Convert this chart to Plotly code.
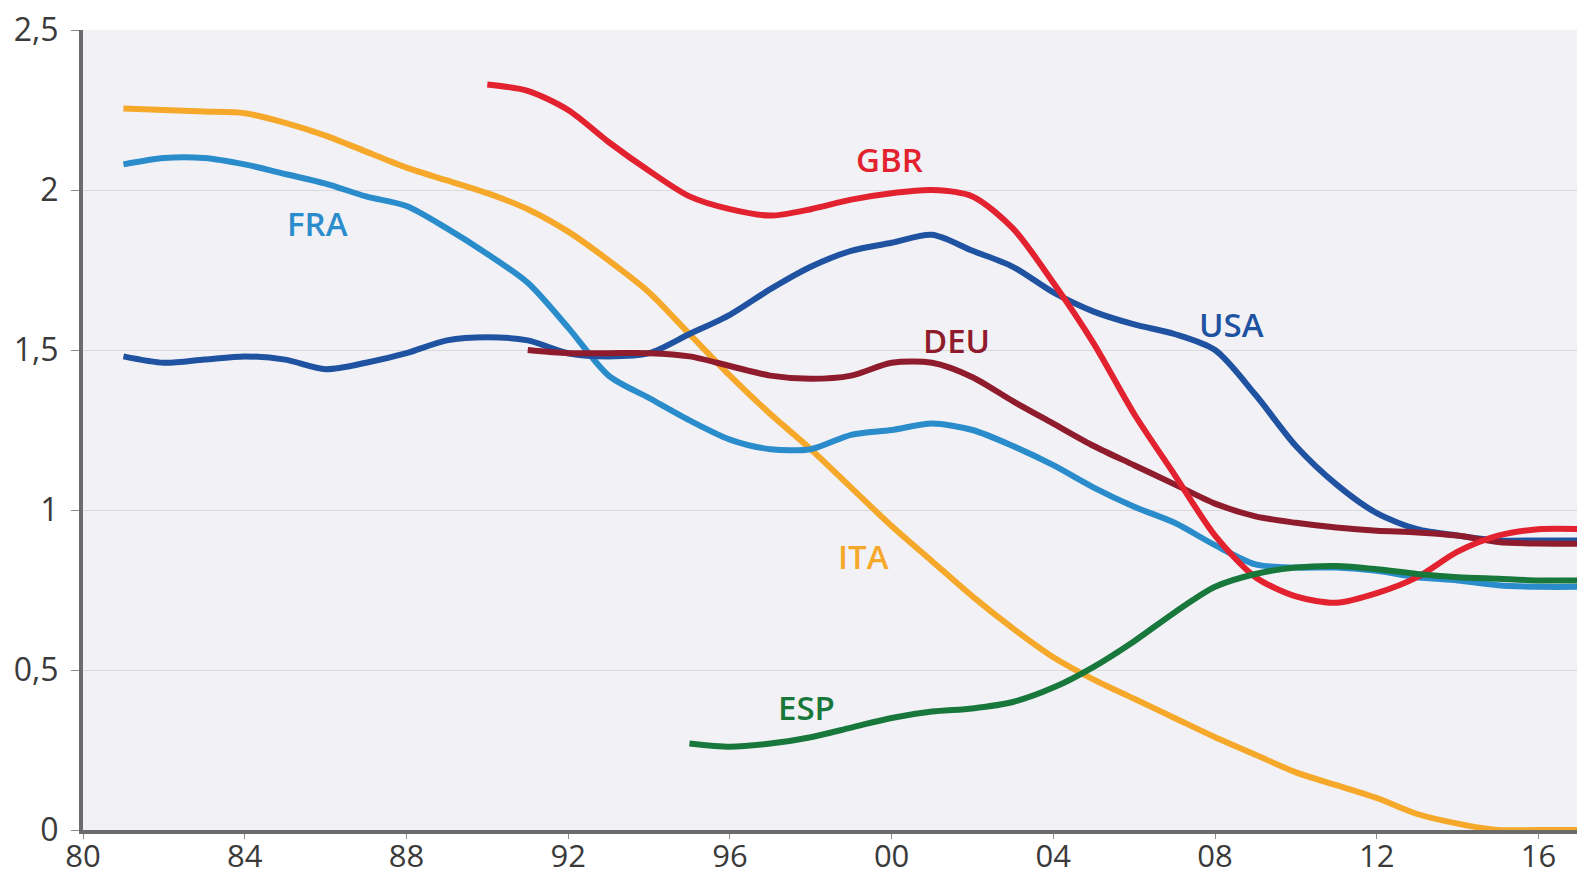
import plotly.graph_objects as go

# years (full calendar) for each series
years_long = [1981, 1982, 1983, 1984, 1985, 1986, 1987, 1988, 1989, 1990, 1991, 1992,
              1993, 1994, 1995, 1996, 1997, 1998, 1999, 2000, 2001, 2002, 2003, 2004,
              2005, 2006, 2007, 2008, 2009, 2010, 2011, 2012, 2013, 2014, 2015, 2016, 2017.2]

ita = [2.255, 2.25, 2.245, 2.24, 2.21, 2.17, 2.12, 2.07, 2.03, 1.99, 1.94, 1.87,
       1.78, 1.68, 1.55, 1.42, 1.30, 1.19, 1.07, 0.95, 0.84, 0.73, 0.63, 0.54,
       0.47, 0.41, 0.35, 0.29, 0.235, 0.18, 0.14, 0.10, 0.05, 0.02, 0.0, 0.0, 0.0]

fra = [2.08, 2.10, 2.10, 2.08, 2.05, 2.02, 1.98, 1.95, 1.88, 1.80, 1.71, 1.57,
       1.42, 1.35, 1.28, 1.22, 1.19, 1.19, 1.235, 1.25, 1.27, 1.25, 1.20, 1.14,
       1.07, 1.01, 0.96, 0.89, 0.83, 0.82, 0.82, 0.81, 0.79, 0.78, 0.765, 0.76, 0.76]

usa = [1.48, 1.46, 1.47, 1.48, 1.47, 1.44, 1.46, 1.49, 1.53, 1.54, 1.53, 1.49,
       1.48, 1.49, 1.55, 1.61, 1.69, 1.76, 1.81, 1.835, 1.86, 1.81, 1.76, 1.68,
       1.62, 1.58, 1.55, 1.50, 1.36, 1.20, 1.08, 0.99, 0.94, 0.92, 0.905, 0.905, 0.905]

years_deu = [1991, 1992, 1993, 1994, 1995, 1996, 1997, 1998, 1999, 2000, 2001, 2002,
             2003, 2004, 2005, 2006, 2007, 2008, 2009, 2010, 2011, 2012, 2013, 2014,
             2015, 2016, 2017.2]
deu = [1.50, 1.49, 1.49, 1.49, 1.48, 1.45, 1.42, 1.41, 1.42, 1.46, 1.46, 1.415,
       1.34, 1.27, 1.20, 1.14, 1.08, 1.02, 0.98, 0.96, 0.945, 0.935, 0.93, 0.92,
       0.90, 0.895, 0.895]

years_gbr = [1990, 1991, 1992, 1993, 1994, 1995, 1996, 1997, 1998, 1999, 2000, 2001,
             2002, 2003, 2004, 2005, 2006, 2007, 2008, 2009, 2010, 2011, 2012, 2013,
             2014, 2015, 2016, 2017.2]
gbr = [2.33, 2.31, 2.25, 2.15, 2.06, 1.98, 1.94, 1.92, 1.94, 1.97, 1.99, 2.00,
       1.98, 1.88, 1.71, 1.52, 1.30, 1.11, 0.92, 0.79, 0.73, 0.71, 0.74, 0.79,
       0.87, 0.92, 0.94, 0.94]

years_esp = [1995, 1996, 1997, 1998, 1999, 2000, 2001, 2002, 2003, 2004, 2005, 2006,
             2007, 2008, 2009, 2010, 2011, 2012, 2013, 2014, 2015, 2016, 2017.2]
esp = [0.27, 0.26, 0.27, 0.29, 0.32, 0.35, 0.37, 0.38, 0.40, 0.445, 0.51, 0.59,
       0.68, 0.76, 0.80, 0.82, 0.825, 0.815, 0.80, 0.79, 0.785, 0.78, 0.78]

tick_years = [1980, 1984, 1988, 1992, 1996, 2000, 2004, 2008, 2012, 2016]
tick_text = ["80", "84", "88", "92", "96", "00", "04", "08", "12", "16"]
ytick_vals = [0, 0.5, 1, 1.5, 2, 2.5]
ytick_text = ["0", "0,5", "1", "1,5", "2", "2,5"]

# name, x, y, colour, label position
series = [
    ("ITA", years_long, ita, "#f5a82a", 1999.3, 0.855),
    ("FRA", years_long, fra, "#2a8ccb", 1985.8, 1.895),
    ("USA", years_long, usa, "#1f52a0", 2008.4, 1.58),
    ("DEU", years_deu, deu, "#8e1c2c", 2001.6, 1.53),
    ("GBR", years_gbr, gbr, "#e3222f", 1999.95, 2.095),
    ("ESP", years_esp, esp, "#18783c", 1997.9, 0.383),
]

fig = go.Figure()

for name, xs, ys, color, lx, ly in series:
    fig.add_trace(go.Scatter(
        x=xs, y=ys, name=name, mode="lines",
        line=dict(color=color, width=6, shape="spline", smoothing=0.8),
        showlegend=False
    ))
    fig.add_annotation(
        x=lx, y=ly, text=name, showarrow=False,
        font=dict(family="Open Sans", size=33, color=color, weight=600)
    )

# page body has an 8px margin, so the figure is sized to fit the window
fig.update_layout(
    width=1577, height=869,
    margin=dict(l=75, r=0, t=22, b=47),
    paper_bgcolor="white",
    plot_bgcolor="#f2f2f6",
    font=dict(family="Open Sans", color="#333333"),
)

fig.update_xaxes(
    range=[1980, 2017.15],
    tickvals=tick_years, ticktext=tick_text,
    ticks="outside", ticklen=5, tickcolor="#8a8a8a", tickwidth=1,
    tickfont=dict(size=31, color="#3a3a3a"),
    showline=True, linecolor="#6b6b6b", linewidth=4,
    showgrid=False, zeroline=False, automargin=False,
    ticklabelstandoff=-9, ticklabeloverflow="allow",
)
fig.update_yaxes(
    range=[0, 2.5],
    tickvals=ytick_vals, ticktext=ytick_text,
    ticks="outside", ticklen=8, tickcolor="#8a8a8a", tickwidth=1,
    tickfont=dict(size=32, color="#3a3a3a"),
    showline=True, linecolor="#6b6b6b", linewidth=4,
    showgrid=True, gridcolor="#d9d9dc", gridwidth=1, zeroline=False,
    automargin=False, ticklabelstandoff=6, ticklabeloverflow="allow",
)

fig.write_html("out.html")
